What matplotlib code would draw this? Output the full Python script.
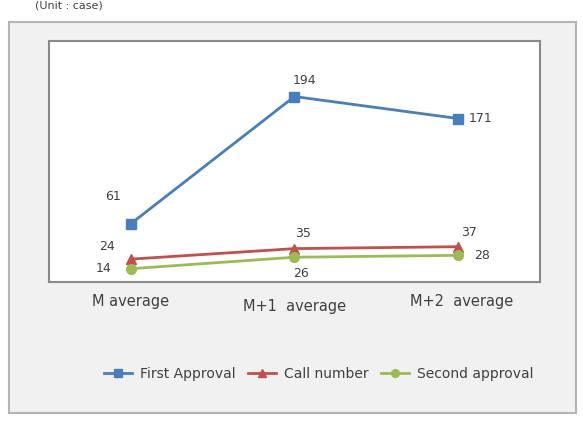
import matplotlib.pyplot as plt
from matplotlib.patches import Rectangle

categories = ['M average', 'M+1  average', 'M+2  average']
first_approval = [61, 194, 171]
call_number = [24, 35, 37]
second_approval = [14, 26, 28]

fig = plt.figure(figsize=(5.83, 4.32), dpi=100)
fig.patch.set_facecolor('white')

# outer grey panel
fig.patches.append(Rectangle((0.0154, 0.044), 0.9726, 0.905, transform=fig.transFigure,
                             facecolor='#f1f1f1', edgecolor='#b4b4b4', linewidth=1.5, zorder=-1))

fig.text(0.06, 1 - 6 / 432, '(Unit : case)', fontsize=8, color='#404040', va='center', ha='left')

ax = fig.add_axes([0.084, 0.347, 0.842, 0.558])
ax.set_facecolor('white')
for s in ax.spines.values():
    s.set_color('#8a8a8a')
    s.set_linewidth(1.5)

x = range(len(categories))
ax.plot(x, first_approval, color='#4a7ebb', lw=2, marker='s', ms=7, label='First Approval')
ax.plot(x, call_number, color='#c0504d', lw=2, marker='^', ms=7, label='Call number')
ax.plot(x, second_approval, color='#9bbb59', lw=2, marker='o', ms=7, label='Second approval')

ax.set_xlim(-0.5, 2.5)
ax.set_ylim(0, 252)
ax.set_xticks([])
ax.set_yticks([])

lab_font = dict(fontsize=9, color='#404040', family=['Liberation Sans Narrow', 'DejaVu Sans'],
                ha='center', va='center', annotation_clip=False)
offsets = {
    'first': [(-18, 27), (10, 16), (23, 0)],
    'call': [(-24, 13), (9, 15), (11, 14)],
    'second': [(-27, 0), (7, -16), (24, 0)],
}
for key, vals in [('first', first_approval), ('call', call_number), ('second', second_approval)]:
    for i, v in enumerate(vals):
        ax.annotate(str(v), (i, v), xytext=offsets[key][i], textcoords='offset pixels', **lab_font)

# category labels
cat_pos = [(0, -19), (0, -24), (0.02, -19)]
for i, c in enumerate(categories):
    dx, dy = cat_pos[i]
    ax.annotate(c, (i + dx, 0), xytext=(0, dy), textcoords='offset pixels',
                ha='center', va='center', fontsize=10.5, color='#404040', annotation_clip=False)

fig.legend(loc='center', bbox_to_anchor=(0.547, 0.134), ncol=3, frameon=False,
           fontsize=10, handlelength=2.0, columnspacing=0.9, handletextpad=0.6,
           markerscale=0.8, labelcolor='#404040')

fig.savefig('out.png', dpi=100)
